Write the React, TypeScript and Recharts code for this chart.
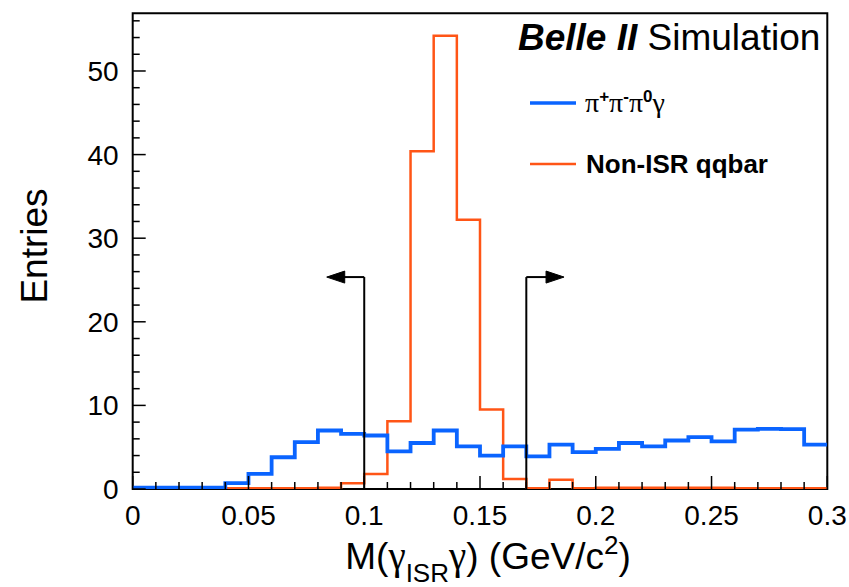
import React from 'react';
import { ComposedChart, Line, XAxis, YAxis, ReferenceArea, ReferenceLine, ReferenceDot, Legend, Label } from 'recharts';

// Histogram bin low edges (bin width 0.01 GeV/c^2), plus the upper edge of the last bin
const binEdges = [0, 0.01, 0.02, 0.03, 0.04, 0.05, 0.06, 0.07, 0.08, 0.09, 0.1, 0.11, 0.12, 0.13, 0.14, 0.15, 0.16, 0.17, 0.18, 0.19, 0.2, 0.21, 0.22, 0.23, 0.24, 0.25, 0.26, 0.27, 0.28, 0.29, 0.3];
// pi+ pi- pi0 gamma entries per bin
const signalCounts = [0.15, 0.15, 0.15, 0.15, 0.7, 1.8, 3.8, 5.6, 7.0, 6.6, 6.4, 4.5, 5.5, 7.0, 5.1, 4.0, 5.1, 3.9, 5.3, 4.4, 4.8, 5.5, 5.1, 5.8, 6.2, 5.7, 7.1, 7.2, 7.15, 5.3];
// Non-ISR qqbar entries per bin
const qqbarCounts = [0, 0, 0, 0, 0.1, 0.1, 0.1, 0.1, 0.15, 0.7, 1.8, 8.1, 40.4, 54.2, 32.2, 9.5, 1.2, 0.1, 1.1, 0.1, 0.15, 0.15, 0.15, 0.15, 0.15, 0.15, 0.1, 0.1, 0.1, 0.1];

const xTicks = [0, 0.01, 0.02, 0.03, 0.04, 0.05, 0.06, 0.07, 0.08, 0.09, 0.1, 0.11, 0.12, 0.13, 0.14, 0.15, 0.16, 0.17, 0.18, 0.19, 0.2, 0.21, 0.22, 0.23, 0.24, 0.25, 0.26, 0.27, 0.28, 0.29, 0.3];
const xMajorTicks = [0, 0.05, 0.1, 0.15, 0.2, 0.25, 0.3];
const xMajorLabels = ['0', '0.05', '0.1', '0.15', '0.2', '0.25', '0.3'];
const yTicks = [0, 2, 4, 6, 8, 10, 12, 14, 16, 18, 20, 22, 24, 26, 28, 30, 32, 34, 36, 38, 40, 42, 44, 46, 48, 50, 52, 54, 56];
const yMajorTicks = [0, 10, 20, 30, 40, 50];
const yMajorLabels = ['0', '10', '20', '30', '40', '50'];
const yMax = 56.9;

// selection cuts drawn as arrows
const cutPositions = [0.1, 0.17];
const cutArrowTips = [0.0838, 0.1863];
const cutArrowHeight = 25.35;

const BLUE = '#0A64FF';
const ORANGE = '#FF5516';
const SANS = "'Liberation Sans', Arial, Helvetica, sans-serif";
const SERIF = "'Liberation Serif', 'Times New Roman', serif";

const data = binEdges.map((edge, i) => ({
  x: edge,
  signal: signalCounts[Math.min(i, signalCounts.length - 1)],
  qqbar: qqbarCounts[Math.min(i, qqbarCounts.length - 1)],
}));

const near = (a: number, b: number) => Math.abs(a - b) < 1e-9;

const XTick = (props: any) => {
  const { x, y, payload } = props;
  const idx = xMajorTicks.findIndex((m) => near(m, payload.value));
  const major = idx >= 0;
  return (
    <g>
      <line x1={x} y1={y} x2={x} y2={y - (major ? 13 : 7)} stroke="#000" strokeWidth={1.5} />
      {major && (
        <text x={x} y={y + 36} textAnchor="middle" fontSize={28} fontFamily={SANS} fill="#000">
          {xMajorLabels[idx]}
        </text>
      )}
    </g>
  );
};

const YTick = (props: any) => {
  const { x, y, payload } = props;
  const idx = yMajorTicks.findIndex((m) => near(m, payload.value));
  const major = idx >= 0;
  return (
    <g>
      <line x1={x} y1={y} x2={x + (major ? 13 : 7)} y2={y} stroke="#000" strokeWidth={1.5} />
      {major && (
        <text x={x - 14} y={y + 10} textAnchor="end" fontSize={28} fontFamily={SANS} fill="#000">
          {yMajorLabels[idx]}
        </text>
      )}
    </g>
  );
};

const XTitle = (props: any) => {
  const vb = props.viewBox || { x: 132, y: 489, width: 695 };
  const cx = vb.x + vb.width / 2 + 8;
  const base = vb.y + 80;
  return (
    <text x={cx} y={base} textAnchor="middle" fontSize={37} fontFamily={SANS} fill="#000">
      M(
      <tspan fontFamily={SERIF} fontSize={39}>γ</tspan>
      <tspan fontSize={26} dy={13}>ISR</tspan>
      <tspan fontFamily={SERIF} fontSize={39} dy={-13}>γ</tspan>
      <tspan>) (GeV/c</tspan>
      <tspan fontSize={26} dy={-15}>2</tspan>
      <tspan dy={15}>)</tspan>
    </text>
  );
};

const YTitle = () => (
  <text
    x={47}
    y={246}
    transform="rotate(-90 47 246)"
    textAnchor="middle"
    fontSize={37}
    fontFamily={SANS}
    fill="#000"
  >
    Entries
  </text>
);

const TitleLabel = (props: any) => {
  const vb = props.viewBox || { x: 132, y: 13, width: 695 };
  return (
    <text x={vb.x + vb.width - 7} y={vb.y + 37} textAnchor="end" fontSize={37} fontFamily={SANS} fill="#000">
      <tspan fontWeight="bold" fontStyle="italic">Belle II</tspan>
      <tspan> Simulation</tspan>
    </text>
  );
};

const LegendBox = () => (
  <svg width={300} height={110} style={{ display: 'block', overflow: 'visible' }}>
    <line x1={0} y1={18} x2={46} y2={18} stroke={BLUE} strokeWidth={3.5} />
    <text x={55} y={27} fontSize={28} fontFamily={SERIF} fill="#000">
      π
      <tspan fontFamily={SANS} fontWeight="bold" fontSize={17} dy={-10}>+</tspan>
      <tspan dy={10}>π</tspan>
      <tspan fontFamily={SANS} fontWeight="bold" fontSize={17} dy={-10}>-</tspan>
      <tspan dy={10}>π</tspan>
      <tspan fontFamily={SANS} fontWeight="bold" fontSize={17} dy={-10}>0</tspan>
      <tspan dy={10}>γ</tspan>
    </text>
    <line x1={0} y1={79} x2={46} y2={79} stroke={ORANGE} strokeWidth={2.5} />
    <text x={56} y={88} fontSize={26} fontWeight="bold" fontFamily={SANS} fill="#000">
      Non-ISR qqbar
    </text>
  </svg>
);

const ArrowHead = (dir: number) => (props: any) => {
  const { cx, cy } = props;
  const len = 18;
  const half = 6;
  return (
    <polygon
      points={`${cx},${cy} ${cx - dir * len},${cy - half} ${cx - dir * len},${cy + half}`}
      fill="#000"
      stroke="#000"
      strokeWidth={1}
    />
  );
};

export default function App() {
  return (
    <div style={{ position: 'absolute', left: 0, top: 0, width: 849, height: 587, background: '#fff' }}>
      <ComposedChart
        width={849}
        height={587}
        data={data}
        margin={{ top: 13.3, right: 21.7, bottom: 38, left: 72.7 }}
      >
        <XAxis
          dataKey="x"
          type="number"
          domain={[0, 0.3]}
          ticks={xTicks}
          interval={0}
          tickSize={0}
          tickMargin={0}
          axisLine={false}
          tick={<XTick />}
          height={60}
          allowDataOverflow
        >
          <Label content={<XTitle />} />
        </XAxis>
        <YAxis
          type="number"
          domain={[0, yMax]}
          ticks={yTicks}
          interval={0}
          tickSize={0}
          tickMargin={0}
          axisLine={false}
          tick={<YTick />}
          width={60}
          allowDataOverflow
        >
          <Label content={<YTitle />} />
        </YAxis>
        <Line
          dataKey="qqbar"
          type="stepAfter"
          stroke={ORANGE}
          strokeWidth={2.5}
          dot={false}
          activeDot={false}
          isAnimationActive={false}
        />
        <Line
          dataKey="signal"
          type="stepAfter"
          stroke={BLUE}
          strokeWidth={3.8}
          dot={false}
          activeDot={false}
          isAnimationActive={false}
        />
        {cutPositions.map((c, i) => (
          <ReferenceLine
            key={`v${i}`}
            segment={[{ x: c, y: 0 }, { x: c, y: cutArrowHeight }]}
            stroke="#000"
            strokeWidth={2}
          />
        ))}
        {cutPositions.map((c, i) => (
          <ReferenceLine
            key={`h${i}`}
            segment={[{ x: c, y: cutArrowHeight }, { x: cutArrowTips[i] + (cutArrowTips[i] > c ? -0.004 : 0.004), y: cutArrowHeight }]}
            stroke="#000"
            strokeWidth={2}
          />
        ))}
        {cutPositions.map((c, i) => (
          <ReferenceDot
            key={`d${i}`}
            x={cutArrowTips[i]}
            y={cutArrowHeight}
            shape={ArrowHead(cutArrowTips[i] > c ? 1 : -1)}
          />
        ))}
        <ReferenceArea
          x1={0}
          x2={0.3}
          y1={0}
          y2={yMax}
          fill="none"
          fillOpacity={0}
          stroke="#000"
          strokeWidth={2}
          strokeOpacity={1}
          label={TitleLabel}
        />
        <Legend
          layout="horizontal"
          verticalAlign="middle"
          align="center"
          content={<LegendBox />}
          wrapperStyle={{ position: 'absolute', left: 530, top: 85, width: 300, height: 110 }}
        />
      </ComposedChart>
    </div>
  );
}
